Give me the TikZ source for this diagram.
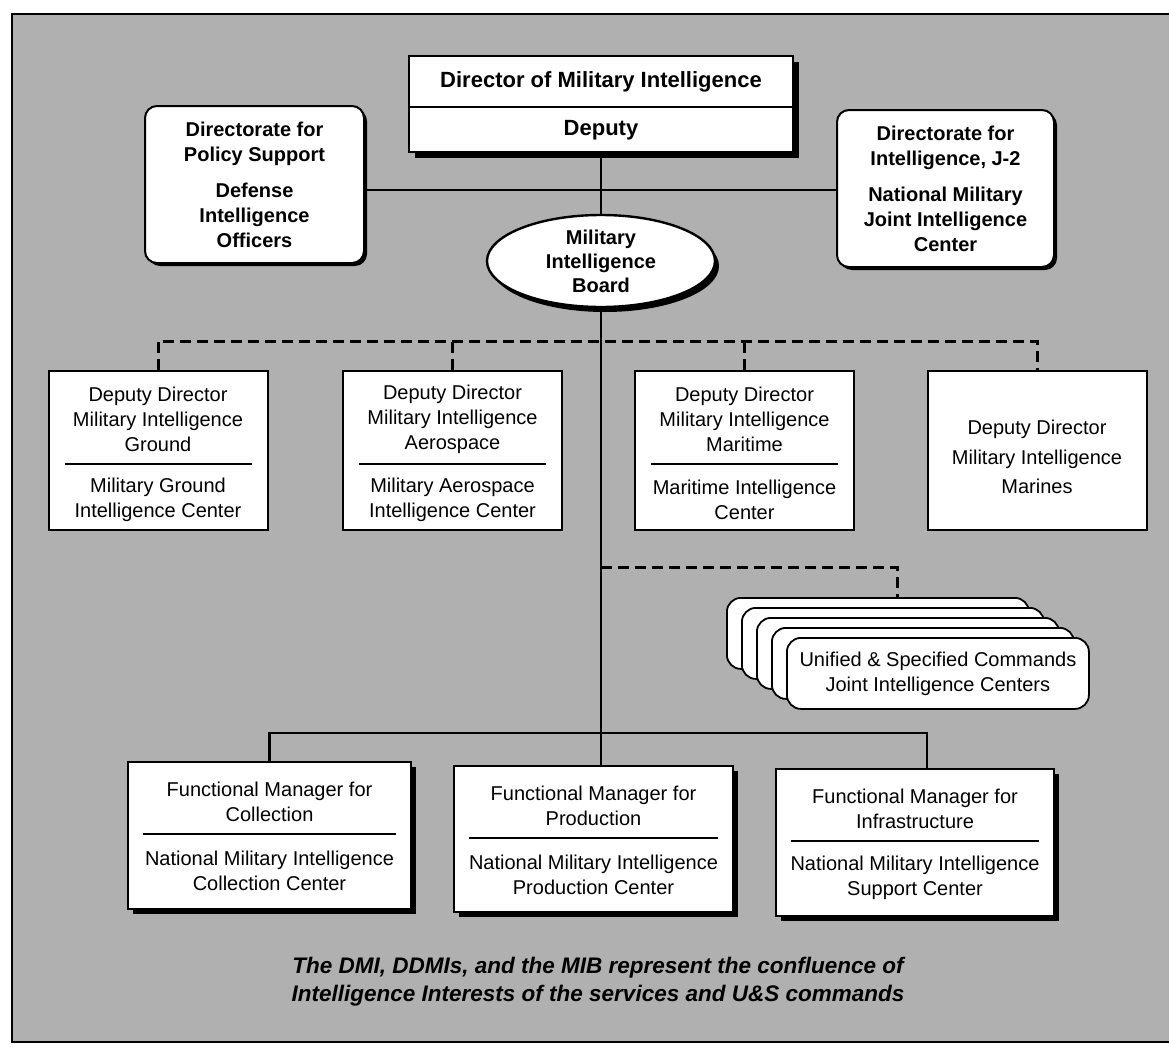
\documentclass[tikz,border=0pt]{standalone}
\usepackage{fontspec}
\setmainfont{Liberation Sans}
\usetikzlibrary{shapes.geometric,shadows,calc}
\definecolor{bggray}{gray}{0.69}
\newcommand{\fReg}{\fontsize{20}{25}\selectfont}
\newcommand{\fBld}{\fontsize{20}{25}\selectfont\bfseries}
\newcommand{\fBig}{\fontsize{22}{27}\selectfont\bfseries}
\newcommand{\fMib}{\fontsize{20}{24}\selectfont\bfseries}
\newcommand{\fMar}{\fontsize{20}{29.5}\selectfont}
\newcommand{\fCap}{\fontsize{22.5}{28}\selectfont\bfseries\itshape}
\begin{document}
\begin{tikzpicture}[x=1pt,y=-1pt,
  conn/.style={line width=2.2pt},
  dconn/.style={line width=3pt,dash pattern=on 11pt off 6pt},
  shd/.style={drop shadow={shadow xshift=#1,shadow yshift=-#1,fill=black,opacity=1}},
  sqbox/.style={draw,line width=2pt,fill=white,inner sep=0pt},
  rbox/.style={draw,line width=2pt,fill=white,inner sep=0pt,rounded corners=12pt},
  txt/.style={inner sep=0pt,align=center},
  divline/.style={line width=1.8pt},
]
\useasboundingbox (0,0) rectangle (1169,1049);
% background frame
\fill[bggray] (12,14) rectangle (1169,1042);
\draw[line width=2pt] (1169,14) -- (12,14) -- (12,1042) -- (1169,1042);

% ---------- top level ----------
\node[sqbox,line width=2.6pt,minimum width=384pt,minimum height=96pt,shd=6pt] (dmi) at (601,104) {};
\draw[line width=2.2pt] ($(dmi.west)+(0,3)$) -- ($(dmi.east)+(0,3)$);
\node[txt,font=\fBig] (dmiA) at (601,82) {Director of Military Intelligence};
\node[txt,font=\fBig] (dmiB) at (601,130) {Deputy};

\node[rbox,minimum width=219pt,minimum height=157pt,shd=3pt,font=\fBld,align=center] (pol) at (254.5,184.5)
  {Directorate for\\Policy Support\\[11pt]Defense\\Intelligence\\Officers};
\node[rbox,minimum width=217pt,minimum height=157pt,shd=3pt,font=\fBld,align=center] (jtwo) at (945.5,188.5)
  {Directorate for\\Intelligence, J-2\\[11pt]National Military\\Joint Intelligence\\Center};

\node[ellipse,draw,line width=2.4pt,fill=white,inner sep=0pt,minimum width=228pt,minimum height=92pt,
  drop shadow={shadow xshift=4pt,shadow yshift=-5pt,fill=black,opacity=1},font=\fMib,align=center] (mib) at (601,261)
  {Military\\Intelligence\\Board};

\coordinate (hub) at (601,190);
\draw[conn] (pol.east |- hub) -- (jtwo.west |- hub);
\draw[conn] (dmi.south) -- (mib.north);

% ---------- deputy directors ----------
\node[sqbox,minimum width=219pt,minimum height=159pt] (ground) at (158,450.5) {};
\node[txt,font=\fReg] (groundA) at (158,419) {Deputy Director\\Military Intelligence\\Ground};
\node[txt,font=\fReg] (groundB) at (158,500) {Military Ground\\Intelligence Center};
\draw[divline] ($(ground.west |- 0,464)+(17,0)$) -- ($(ground.east |- 0,464)+(-17,0)$);

\node[sqbox,minimum width=219pt,minimum height=159pt] (aero) at (452.5,450.5) {};
\node[txt,font=\fReg] (aeroA) at (452.5,419) {Deputy Director\\Military Intelligence\\Aerospace};
\node[txt,font=\fReg] (aeroB) at (452.5,500) {Military Aerospace\\Intelligence Center};
\draw[divline] ($(aero.west |- 0,464)+(17,0)$) -- ($(aero.east |- 0,464)+(-17,0)$);

\node[sqbox,minimum width=219pt,minimum height=159pt] (mari) at (744.5,450.5) {};
\node[txt,font=\fReg] (mariA) at (744.5,419) {Deputy Director\\Military Intelligence\\Maritime};
\node[txt,font=\fReg] (mariB) at (744.5,500) {Maritime Intelligence\\Center};
\draw[divline] ($(mari.west |- 0,464)+(17,0)$) -- ($(mari.east |- 0,464)+(-17,0)$);

\node[sqbox,minimum width=219pt,minimum height=159pt] (marines) at (1037,450.5) {};
\node[txt,font=\fMar] (marinesA) at (1037,457) {Deputy Director\\Military Intelligence\\Marines};

\coordinate (dl) at (0,341);
\draw[dconn] (ground.north) -- (ground.north |- dl) -- (marines.north |- dl) -- (marines.north);
\draw[dconn] (aero.north) -- (aero.north |- dl);
\draw[dconn] (mari.north) -- (mari.north |- dl);

% ---------- unified & specified commands stack ----------
\foreach \i in {0,...,4} {
  \node[rbox,line width=1.8pt,rounded corners=14pt,minimum width=302pt,minimum height=71pt,anchor=north west]
    (stk\i) at (726+15*\i,597+10*\i) {};
}
\node[txt,font=\fReg] (stkT) at (stk4.center) {Unified \& Specified Commands\\Joint Intelligence Centers};
\coordinate (sb) at (897,567);
\draw[dconn] (sb -| mib.south) -- (sb) -- (sb |- stk0.north);

% ---------- functional managers ----------
\node[sqbox,minimum width=283pt,minimum height=147pt,shd=5pt] (coll) at (269.5,835.5) {};
\node[txt,font=\fReg] (collA) at (269.5,802) {Functional Manager for\\Collection};
\node[txt,font=\fReg] (collB) at (269.5,871) {National Military Intelligence\\Collection Center};
\draw[divline] ($(coll.west |- 0,834)+(16,0)$) -- ($(coll.east |- 0,834)+(-16,0)$);

\node[sqbox,minimum width=279pt,minimum height=146pt,shd=5pt] (prod) at (593.5,839) {};
\node[txt,font=\fReg] (prodA) at (593.5,806) {Functional Manager for\\Production};
\node[txt,font=\fReg] (prodB) at (593.5,875) {National Military Intelligence\\Production Center};
\draw[divline] ($(prod.west |- 0,838)+(16,0)$) -- ($(prod.east |- 0,838)+(-16,0)$);

\node[sqbox,minimum width=278pt,minimum height=147pt,shd=5pt] (infra) at (915,842.5) {};
\node[txt,font=\fReg] (infraA) at (915,809) {Functional Manager for\\Infrastructure};
\node[txt,font=\fReg] (infraB) at (915,878) {National Military Intelligence\\Support Center};
\draw[divline] ($(infra.west |- 0,841)+(16,0)$) -- ($(infra.east |- 0,841)+(-16,0)$);

\coordinate (ird) at (927,733);
\draw[conn] (mib.south) -- (mib.south |- prod.north);
\draw[conn] (coll.north) |- (ird) -- (ird |- infra.north);

% ---------- caption ----------
\node[txt,font=\fCap] (cap) at (598,982)
  {The DMI, DDMIs, and the MIB represent the confluence of\\Intelligence Interests of the services and U\&S commands};
\end{tikzpicture}
\end{document}
